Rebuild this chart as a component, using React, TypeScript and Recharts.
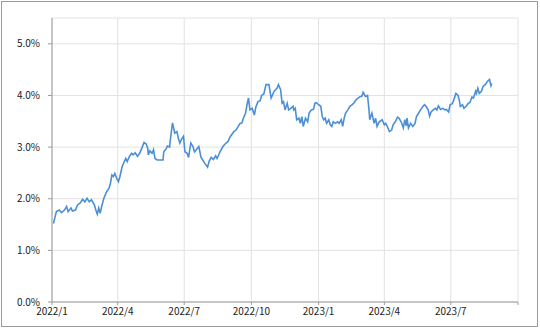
import { LineChart, Line, XAxis, YAxis, CartesianGrid } from "recharts";

const dates = [
  "2022/1/3", "2022/1/5", "2022/1/7", "2022/1/11", "2022/1/14", "2022/1/18", "2022/1/21", "2022/1/23", "2022/1/27", "2022/1/29",
  "2022/2/2", "2022/2/5", "2022/2/8", "2022/2/12", "2022/2/15", "2022/2/18", "2022/2/21", "2022/2/24", "2022/2/28",
  "2022/3/2", "2022/3/4", "2022/3/6", "2022/3/8", "2022/3/10", "2022/3/13", "2022/3/17", "2022/3/20", "2022/3/22", "2022/3/24", "2022/3/26", "2022/3/28", "2022/3/31",
  "2022/4/2", "2022/4/4", "2022/4/7", "2022/4/10", "2022/4/12", "2022/4/14", "2022/4/17", "2022/4/20", "2022/4/22", "2022/4/25", "2022/4/28",
  "2022/5/1", "2022/5/4", "2022/5/7", "2022/5/10", "2022/5/12", "2022/5/13", "2022/5/15", "2022/5/18", "2022/5/20", "2022/5/22", "2022/5/25", "2022/5/29",
  "2022/6/2", "2022/6/3", "2022/6/6", "2022/6/8", "2022/6/11", "2022/6/12", "2022/6/15", "2022/6/18", "2022/6/21", "2022/6/23", "2022/6/25", "2022/6/28", "2022/6/30",
  "2022/7/2", "2022/7/5", "2022/7/7", "2022/7/10", "2022/7/13", "2022/7/15", "2022/7/18", "2022/7/21", "2022/7/24", "2022/7/26", "2022/7/29",
  "2022/8/2", "2022/8/4", "2022/8/7", "2022/8/10", "2022/8/13", "2022/8/15", "2022/8/19", "2022/8/23", "2022/8/26", "2022/8/30",
  "2022/9/2", "2022/9/4", "2022/9/7", "2022/9/10", "2022/9/13", "2022/9/15", "2022/9/18", "2022/9/20", "2022/9/23", "2022/9/25", "2022/9/27", "2022/9/29",
  "2022/10/2", "2022/10/5", "2022/10/7", "2022/10/10", "2022/10/13", "2022/10/15", "2022/10/18", "2022/10/21", "2022/10/25", "2022/10/28",
  "2022/11/1", "2022/11/5", "2022/11/7", "2022/11/10", "2022/11/12", "2022/11/14", "2022/11/16", "2022/11/19", "2022/11/21", "2022/11/24", "2022/11/27", "2022/11/28", "2022/11/30",
  "2022/12/2", "2022/12/5", "2022/12/7", "2022/12/9", "2022/12/11", "2022/12/14", "2022/12/17", "2022/12/19", "2022/12/22", "2022/12/25", "2022/12/27", "2022/12/29",
  "2023/1/1", "2023/1/4", "2023/1/6", "2023/1/8", "2023/1/10", "2023/1/12", "2023/1/15", "2023/1/17", "2023/1/19", "2023/1/21", "2023/1/24", "2023/1/27", "2023/1/29",
  "2023/2/1", "2023/2/3", "2023/2/5", "2023/2/7", "2023/2/10", "2023/2/13", "2023/2/16", "2023/2/18", "2023/2/21", "2023/2/24", "2023/2/27",
  "2023/3/1", "2023/3/3", "2023/3/6", "2023/3/9", "2023/3/11", "2023/3/12", "2023/3/15", "2023/3/18", "2023/3/20", "2023/3/22", "2023/3/25", "2023/3/29",
  "2023/4/1", "2023/4/3", "2023/4/6", "2023/4/8", "2023/4/11", "2023/4/13", "2023/4/16", "2023/4/19", "2023/4/21", "2023/4/24", "2023/4/27", "2023/4/29",
  "2023/5/1", "2023/5/2", "2023/5/4", "2023/5/7", "2023/5/10", "2023/5/13", "2023/5/15", "2023/5/18", "2023/5/21", "2023/5/24", "2023/5/26", "2023/5/28", "2023/5/31",
  "2023/6/2", "2023/6/4", "2023/6/7", "2023/6/10", "2023/6/12", "2023/6/14", "2023/6/17", "2023/6/20", "2023/6/23", "2023/6/25", "2023/6/28", "2023/6/30",
  "2023/7/3", "2023/7/5", "2023/7/8", "2023/7/11", "2023/7/13", "2023/7/14", "2023/7/17", "2023/7/19", "2023/7/22", "2023/7/25", "2023/7/27", "2023/7/30",
  "2023/8/1", "2023/8/4", "2023/8/5", "2023/8/7", "2023/8/9", "2023/8/12", "2023/8/14", "2023/8/17", "2023/8/20", "2023/8/23", "2023/8/25", "2023/8/26",
];

const rates = [
  1.52, 1.64, 1.75, 1.78, 1.73, 1.78, 1.85, 1.75, 1.82, 1.76,
  1.78, 1.88, 1.91, 1.99, 1.94, 2.01, 1.94, 1.98, 1.88,
  1.78, 1.70, 1.82, 1.72, 1.85, 2.01, 2.14, 2.20, 2.30, 2.46, 2.43, 2.49, 2.38,
  2.33, 2.43, 2.62, 2.72, 2.78, 2.72, 2.82, 2.88, 2.85, 2.89, 2.82,
  2.88, 2.98, 3.09, 3.06, 2.98, 2.85, 2.93, 2.88, 2.95, 2.78, 2.75, 2.75,
  2.75, 2.91, 2.96, 3.02, 3.00, 3.14, 3.47, 3.27, 3.30, 3.17, 3.08, 3.17, 3.21,
  2.91, 2.88, 2.80, 3.08, 3.01, 2.91, 2.96, 3.01, 2.80, 2.76, 2.69,
  2.61, 2.72, 2.80, 2.76, 2.83, 2.78, 2.91, 3.01, 3.06, 3.11,
  3.20, 3.24, 3.30, 3.33, 3.40, 3.45, 3.47, 3.56, 3.66, 3.82, 3.95, 3.72,
  3.75, 3.62, 3.77, 3.88, 3.90, 4.00, 4.03, 4.21, 4.21, 3.95,
  4.08, 4.14, 4.21, 4.11, 3.85, 3.88, 3.72, 3.85, 3.72, 3.75, 3.79, 3.72, 3.75,
  3.53, 3.56, 3.46, 3.59, 3.40, 3.56, 3.49, 3.66, 3.72, 3.73, 3.85, 3.86,
  3.82, 3.79, 3.59, 3.53, 3.56, 3.46, 3.53, 3.43, 3.40, 3.49, 3.46, 3.49, 3.46,
  3.53, 3.40, 3.56, 3.66, 3.72, 3.79, 3.82, 3.85, 3.91, 3.95, 3.98,
  3.98, 4.06, 3.98, 4.00, 3.72, 3.53, 3.66, 3.46, 3.56, 3.40, 3.49, 3.53,
  3.43, 3.46, 3.37, 3.30, 3.33, 3.43, 3.49, 3.58, 3.56, 3.49, 3.37, 3.53,
  3.41, 3.56, 3.37, 3.46, 3.40, 3.46, 3.59, 3.66, 3.73, 3.79, 3.82, 3.79, 3.72,
  3.60, 3.68, 3.72, 3.75, 3.72, 3.80, 3.73, 3.75, 3.72, 3.73, 3.68, 3.82,
  3.84, 3.91, 4.04, 4.00, 3.88, 3.79, 3.82, 3.75, 3.79, 3.85, 3.86, 3.97,
  3.95, 4.08, 4.04, 4.14, 4.04, 4.08, 4.17, 4.21, 4.27, 4.31, 4.19, 4.23,
];

const xTickDates = ["2022/1/1", "2022/4/1", "2022/7/1", "2022/10/1", "2023/1/1", "2023/4/1", "2023/7/1", "2023/10/1"];
const xTickLabels = ["2022/1", "2022/4", "2022/7", "2022/10", "2023/1", "2023/4", "2023/7", ""];
const yTicks = [0, 1, 2, 3, 4, 5];

function toTime(s: string) {
  const [y, m, d] = s.split("/").map(Number);
  return Date.UTC(y, m - 1, d);
}

const data = dates.map((d, i) => ({ t: toTime(d), rate: rates[i] }));
const xTicks = xTickDates.map(toTime);

const FONT = "'Noto Sans CJK JP', 'Noto Sans', sans-serif";

export default function App() {
  return (
    <div style={{ position: "absolute", left: 0, top: 0, width: 540, height: 328, background: "#fff" }}>
      <div
        style={{
          position: "absolute",
          left: 1,
          top: 1,
          width: 537,
          height: 326,
          boxSizing: "border-box",
          border: "1px solid #9a9a9a",
        }}
      />
      <div style={{ position: "absolute", left: 0, top: 0 }}>
        <LineChart width={540} height={328} data={data} margin={{ top: 18, right: 22, bottom: 0, left: 0 }}>
          <CartesianGrid stroke="#e2e2e2" strokeWidth={1} />
          <XAxis
            dataKey="t"
            type="number"
            domain={[xTicks[0], xTicks[xTicks.length - 1]]}
            ticks={xTicks}
            tickFormatter={(v: number) => xTickLabels[xTicks.indexOf(v)] ?? ""}
            height={26}
            tickSize={3}
            tickMargin={3}
            stroke="#9a9a9a"
            tick={{ fontSize: 10, fill: "#222", fontFamily: FONT }}
            interval={0}
          />
          <YAxis
            type="number"
            domain={[0, 5.5]}
            ticks={yTicks}
            tickFormatter={(v: number) => `${v.toFixed(1)}%`}
            width={52}
            tickSize={4}
            tickMargin={8}
            stroke="#9a9a9a"
            tick={{ fontSize: 10, fill: "#222", fontFamily: FONT }}
            interval={0}
          />
          <Line
            type="linear"
            dataKey="rate"
            stroke="#4b8fd6"
            strokeWidth={1.6}
            dot={false}
            isAnimationActive={false}
          />
        </LineChart>
      </div>
    </div>
  );
}
